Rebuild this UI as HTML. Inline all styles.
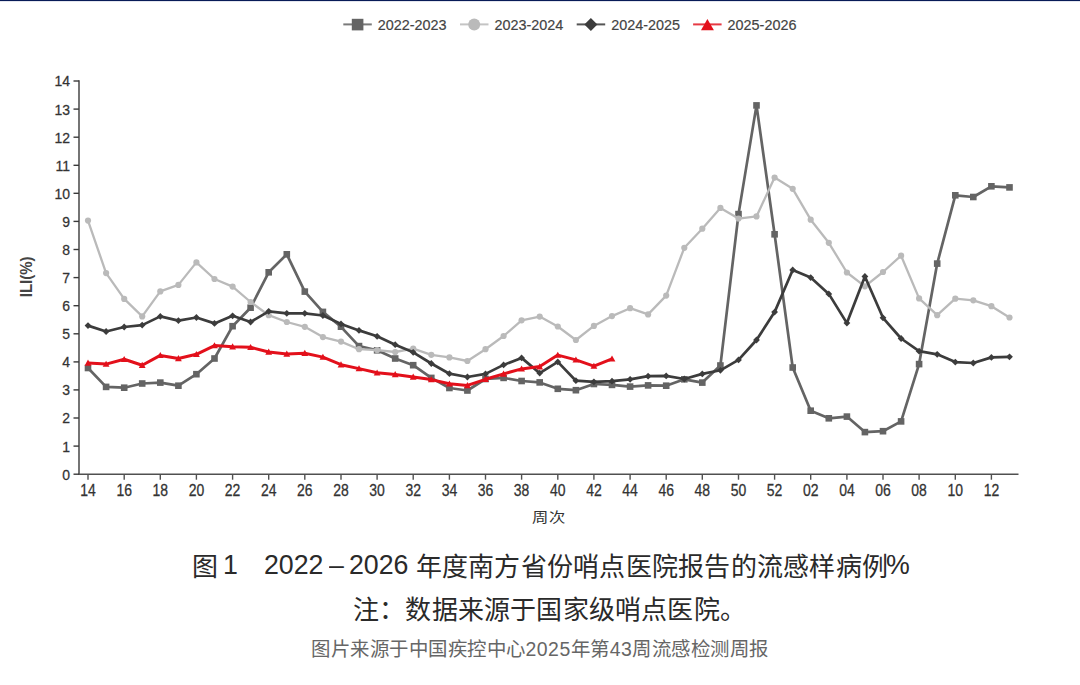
<!DOCTYPE html>
<html lang="zh-CN"><head><meta charset="utf-8"><style>
html,body{margin:0;padding:0;background:#fff;}
body{width:1080px;height:685px;overflow:hidden;position:relative;font-family:"Liberation Sans",sans-serif;}
.topbar{position:absolute;left:0;top:0;width:1080px;height:1px;background:#081b57;}
.topbar2{position:absolute;left:0;top:1px;width:1080px;height:1px;background:#e4e6ee;}
svg{position:absolute;left:0;top:0;}
.tx{position:absolute;color:#2a2a2a;white-space:nowrap;line-height:1;}
.ln{transform:scaleX(0.955);transform-origin:0 0;}
</style></head><body>
<div class="topbar"></div><div class="topbar2"></div>
<svg width="1080" height="685" viewBox="0 0 1080 685">
<g font-family="Liberation Sans, sans-serif" font-size="14.4" fill="#444">
<line x1="343.3" y1="24.4" x2="371.8" y2="24.4" stroke="#7a7a7a" stroke-width="2"/>
<rect x="351.8" y="18.8" width="11.6" height="11.6" fill="#646464"/>
<text x="377.8" y="30.2" stroke="#444" stroke-width="0.2">2022-2023</text>
<line x1="460.0" y1="24.4" x2="488.5" y2="24.4" stroke="#c4c4c4" stroke-width="2"/>
<circle cx="474.2" cy="24.4" r="6.0" fill="#bababa"/>
<text x="494.5" y="30.2" stroke="#444" stroke-width="0.2">2023-2024</text>
<line x1="576.7" y1="24.4" x2="605.2" y2="24.4" stroke="#555555" stroke-width="2"/>
<path d="M590.9 17.9L597.4 24.4L590.9 30.9L584.4 24.4Z" fill="#3c3c3c"/>
<text x="611.2" y="30.2" stroke="#444" stroke-width="0.2">2024-2025</text>
<line x1="693.1" y1="24.4" x2="721.6" y2="24.4" stroke="#e63a44" stroke-width="2"/>
<path d="M707.4 18.9L713.9 30.3L701.0 30.3Z" fill="#e3101b"/>
<text x="727.6" y="30.2" stroke="#444" stroke-width="0.2">2025-2026</text>
</g>
<g>
<line x1="79.0" y1="80.3" x2="79.0" y2="474.2" stroke="#3a3a3a" stroke-width="1.4"/>
<line x1="78.3" y1="474.2" x2="1018.5" y2="474.2" stroke="#505050" stroke-width="1.5"/>
<line x1="73.5" y1="474.2" x2="79.0" y2="474.2" stroke="#3a3a3a" stroke-width="1.4"/>
<line x1="73.5" y1="446.1" x2="79.0" y2="446.1" stroke="#3a3a3a" stroke-width="1.4"/>
<line x1="73.5" y1="418.0" x2="79.0" y2="418.0" stroke="#3a3a3a" stroke-width="1.4"/>
<line x1="73.5" y1="389.9" x2="79.0" y2="389.9" stroke="#3a3a3a" stroke-width="1.4"/>
<line x1="73.5" y1="361.9" x2="79.0" y2="361.9" stroke="#3a3a3a" stroke-width="1.4"/>
<line x1="73.5" y1="333.8" x2="79.0" y2="333.8" stroke="#3a3a3a" stroke-width="1.4"/>
<line x1="73.5" y1="305.7" x2="79.0" y2="305.7" stroke="#3a3a3a" stroke-width="1.4"/>
<line x1="73.5" y1="277.6" x2="79.0" y2="277.6" stroke="#3a3a3a" stroke-width="1.4"/>
<line x1="73.5" y1="249.5" x2="79.0" y2="249.5" stroke="#3a3a3a" stroke-width="1.4"/>
<line x1="73.5" y1="221.4" x2="79.0" y2="221.4" stroke="#3a3a3a" stroke-width="1.4"/>
<line x1="73.5" y1="193.3" x2="79.0" y2="193.3" stroke="#3a3a3a" stroke-width="1.4"/>
<line x1="73.5" y1="165.3" x2="79.0" y2="165.3" stroke="#3a3a3a" stroke-width="1.4"/>
<line x1="73.5" y1="137.2" x2="79.0" y2="137.2" stroke="#3a3a3a" stroke-width="1.4"/>
<line x1="73.5" y1="109.1" x2="79.0" y2="109.1" stroke="#3a3a3a" stroke-width="1.4"/>
<line x1="73.5" y1="81.0" x2="79.0" y2="81.0" stroke="#3a3a3a" stroke-width="1.4"/>
<line x1="88.0" y1="474.2" x2="88.0" y2="479.7" stroke="#505050" stroke-width="1.4"/>
<line x1="124.2" y1="474.2" x2="124.2" y2="479.7" stroke="#505050" stroke-width="1.4"/>
<line x1="160.3" y1="474.2" x2="160.3" y2="479.7" stroke="#505050" stroke-width="1.4"/>
<line x1="196.4" y1="474.2" x2="196.4" y2="479.7" stroke="#505050" stroke-width="1.4"/>
<line x1="232.6" y1="474.2" x2="232.6" y2="479.7" stroke="#505050" stroke-width="1.4"/>
<line x1="268.7" y1="474.2" x2="268.7" y2="479.7" stroke="#505050" stroke-width="1.4"/>
<line x1="304.8" y1="474.2" x2="304.8" y2="479.7" stroke="#505050" stroke-width="1.4"/>
<line x1="341.0" y1="474.2" x2="341.0" y2="479.7" stroke="#505050" stroke-width="1.4"/>
<line x1="377.1" y1="474.2" x2="377.1" y2="479.7" stroke="#505050" stroke-width="1.4"/>
<line x1="413.2" y1="474.2" x2="413.2" y2="479.7" stroke="#505050" stroke-width="1.4"/>
<line x1="449.4" y1="474.2" x2="449.4" y2="479.7" stroke="#505050" stroke-width="1.4"/>
<line x1="485.5" y1="474.2" x2="485.5" y2="479.7" stroke="#505050" stroke-width="1.4"/>
<line x1="521.6" y1="474.2" x2="521.6" y2="479.7" stroke="#505050" stroke-width="1.4"/>
<line x1="557.8" y1="474.2" x2="557.8" y2="479.7" stroke="#505050" stroke-width="1.4"/>
<line x1="593.9" y1="474.2" x2="593.9" y2="479.7" stroke="#505050" stroke-width="1.4"/>
<line x1="630.1" y1="474.2" x2="630.1" y2="479.7" stroke="#505050" stroke-width="1.4"/>
<line x1="666.2" y1="474.2" x2="666.2" y2="479.7" stroke="#505050" stroke-width="1.4"/>
<line x1="702.3" y1="474.2" x2="702.3" y2="479.7" stroke="#505050" stroke-width="1.4"/>
<line x1="738.5" y1="474.2" x2="738.5" y2="479.7" stroke="#505050" stroke-width="1.4"/>
<line x1="774.6" y1="474.2" x2="774.6" y2="479.7" stroke="#505050" stroke-width="1.4"/>
<line x1="810.7" y1="474.2" x2="810.7" y2="479.7" stroke="#505050" stroke-width="1.4"/>
<line x1="846.9" y1="474.2" x2="846.9" y2="479.7" stroke="#505050" stroke-width="1.4"/>
<line x1="883.0" y1="474.2" x2="883.0" y2="479.7" stroke="#505050" stroke-width="1.4"/>
<line x1="919.1" y1="474.2" x2="919.1" y2="479.7" stroke="#505050" stroke-width="1.4"/>
<line x1="955.3" y1="474.2" x2="955.3" y2="479.7" stroke="#505050" stroke-width="1.4"/>
<line x1="991.4" y1="474.2" x2="991.4" y2="479.7" stroke="#505050" stroke-width="1.4"/>
</g>
<g font-family="Liberation Sans, sans-serif" font-size="14.4" fill="#333" stroke="#333" stroke-width="0.25">
<text transform="translate(70,479.6) scale(0.97,1.05)" text-anchor="end">0</text>
<text transform="translate(70,451.5) scale(0.97,1.05)" text-anchor="end">1</text>
<text transform="translate(70,423.4) scale(0.97,1.05)" text-anchor="end">2</text>
<text transform="translate(70,395.3) scale(0.97,1.05)" text-anchor="end">3</text>
<text transform="translate(70,367.3) scale(0.97,1.05)" text-anchor="end">4</text>
<text transform="translate(70,339.2) scale(0.97,1.05)" text-anchor="end">5</text>
<text transform="translate(70,311.1) scale(0.97,1.05)" text-anchor="end">6</text>
<text transform="translate(70,283.0) scale(0.97,1.05)" text-anchor="end">7</text>
<text transform="translate(70,254.9) scale(0.97,1.05)" text-anchor="end">8</text>
<text transform="translate(70,226.8) scale(0.97,1.05)" text-anchor="end">9</text>
<text transform="translate(70,198.7) scale(0.97,1.05)" text-anchor="end">10</text>
<text transform="translate(70,170.7) scale(0.97,1.05)" text-anchor="end">11</text>
<text transform="translate(70,142.6) scale(0.97,1.05)" text-anchor="end">12</text>
<text transform="translate(70,114.5) scale(0.97,1.05)" text-anchor="end">13</text>
<text transform="translate(70,86.4) scale(0.97,1.05)" text-anchor="end">14</text>
<text transform="translate(88.0,495.6) scale(0.97,1.1)" text-anchor="middle">14</text>
<text transform="translate(124.2,495.6) scale(0.97,1.1)" text-anchor="middle">16</text>
<text transform="translate(160.3,495.6) scale(0.97,1.1)" text-anchor="middle">18</text>
<text transform="translate(196.4,495.6) scale(0.97,1.1)" text-anchor="middle">20</text>
<text transform="translate(232.6,495.6) scale(0.97,1.1)" text-anchor="middle">22</text>
<text transform="translate(268.7,495.6) scale(0.97,1.1)" text-anchor="middle">24</text>
<text transform="translate(304.8,495.6) scale(0.97,1.1)" text-anchor="middle">26</text>
<text transform="translate(341.0,495.6) scale(0.97,1.1)" text-anchor="middle">28</text>
<text transform="translate(377.1,495.6) scale(0.97,1.1)" text-anchor="middle">30</text>
<text transform="translate(413.2,495.6) scale(0.97,1.1)" text-anchor="middle">32</text>
<text transform="translate(449.4,495.6) scale(0.97,1.1)" text-anchor="middle">34</text>
<text transform="translate(485.5,495.6) scale(0.97,1.1)" text-anchor="middle">36</text>
<text transform="translate(521.6,495.6) scale(0.97,1.1)" text-anchor="middle">38</text>
<text transform="translate(557.8,495.6) scale(0.97,1.1)" text-anchor="middle">40</text>
<text transform="translate(593.9,495.6) scale(0.97,1.1)" text-anchor="middle">42</text>
<text transform="translate(630.1,495.6) scale(0.97,1.1)" text-anchor="middle">44</text>
<text transform="translate(666.2,495.6) scale(0.97,1.1)" text-anchor="middle">46</text>
<text transform="translate(702.3,495.6) scale(0.97,1.1)" text-anchor="middle">48</text>
<text transform="translate(738.5,495.6) scale(0.97,1.1)" text-anchor="middle">50</text>
<text transform="translate(774.6,495.6) scale(0.97,1.1)" text-anchor="middle">52</text>
<text transform="translate(810.7,495.6) scale(0.97,1.1)" text-anchor="middle">02</text>
<text transform="translate(846.9,495.6) scale(0.97,1.1)" text-anchor="middle">04</text>
<text transform="translate(883.0,495.6) scale(0.97,1.1)" text-anchor="middle">06</text>
<text transform="translate(919.1,495.6) scale(0.97,1.1)" text-anchor="middle">08</text>
<text transform="translate(955.3,495.6) scale(0.97,1.1)" text-anchor="middle">10</text>
<text transform="translate(991.4,495.6) scale(0.97,1.1)" text-anchor="middle">12</text>
</g>
<g>
<polyline fill="none" stroke="#646464" stroke-width="2.7" stroke-linejoin="round" points="88.0,368.0 106.1,386.9 124.2,387.7 142.2,383.5 160.3,382.6 178.4,385.7 196.4,374.2 214.5,358.5 232.6,326.2 250.6,307.7 268.7,272.3 286.8,254.3 304.8,291.6 322.9,311.9 341.0,326.8 359.0,346.1 377.1,350.3 395.2,358.5 413.2,365.2 431.3,377.9 449.4,388.0 467.4,390.5 485.5,379.0 503.6,377.9 521.6,381.0 539.7,382.4 557.8,388.8 575.9,390.2 593.9,384.0 612.0,384.9 630.1,386.6 648.1,385.4 666.2,385.7 684.3,379.3 702.3,382.6 720.4,365.5 738.5,214.1 756.5,105.4 774.6,234.3 792.7,367.5 810.7,410.7 828.8,418.3 846.9,416.6 864.9,432.1 883.0,431.2 901.1,421.4 919.1,364.1 937.2,263.6 955.3,195.3 973.3,197.0 991.4,186.3 1009.5,187.4"/>
<rect x="84.7" y="364.7" width="6.6" height="6.6" fill="#646464"/>
<rect x="102.8" y="383.6" width="6.6" height="6.6" fill="#646464"/>
<rect x="120.9" y="384.4" width="6.6" height="6.6" fill="#646464"/>
<rect x="138.9" y="380.2" width="6.6" height="6.6" fill="#646464"/>
<rect x="157.0" y="379.3" width="6.6" height="6.6" fill="#646464"/>
<rect x="175.1" y="382.4" width="6.6" height="6.6" fill="#646464"/>
<rect x="193.1" y="370.9" width="6.6" height="6.6" fill="#646464"/>
<rect x="211.2" y="355.2" width="6.6" height="6.6" fill="#646464"/>
<rect x="229.3" y="322.9" width="6.6" height="6.6" fill="#646464"/>
<rect x="247.3" y="304.4" width="6.6" height="6.6" fill="#646464"/>
<rect x="265.4" y="269.0" width="6.6" height="6.6" fill="#646464"/>
<rect x="283.5" y="251.0" width="6.6" height="6.6" fill="#646464"/>
<rect x="301.5" y="288.3" width="6.6" height="6.6" fill="#646464"/>
<rect x="319.6" y="308.6" width="6.6" height="6.6" fill="#646464"/>
<rect x="337.7" y="323.4" width="6.6" height="6.6" fill="#646464"/>
<rect x="355.7" y="342.8" width="6.6" height="6.6" fill="#646464"/>
<rect x="373.8" y="347.0" width="6.6" height="6.6" fill="#646464"/>
<rect x="391.9" y="355.2" width="6.6" height="6.6" fill="#646464"/>
<rect x="409.9" y="361.9" width="6.6" height="6.6" fill="#646464"/>
<rect x="428.0" y="374.6" width="6.6" height="6.6" fill="#646464"/>
<rect x="446.1" y="384.7" width="6.6" height="6.6" fill="#646464"/>
<rect x="464.1" y="387.2" width="6.6" height="6.6" fill="#646464"/>
<rect x="482.2" y="375.7" width="6.6" height="6.6" fill="#646464"/>
<rect x="500.3" y="374.6" width="6.6" height="6.6" fill="#646464"/>
<rect x="518.3" y="377.7" width="6.6" height="6.6" fill="#646464"/>
<rect x="536.4" y="379.1" width="6.6" height="6.6" fill="#646464"/>
<rect x="554.5" y="385.5" width="6.6" height="6.6" fill="#646464"/>
<rect x="572.6" y="386.9" width="6.6" height="6.6" fill="#646464"/>
<rect x="590.6" y="380.7" width="6.6" height="6.6" fill="#646464"/>
<rect x="608.7" y="381.6" width="6.6" height="6.6" fill="#646464"/>
<rect x="626.8" y="383.3" width="6.6" height="6.6" fill="#646464"/>
<rect x="644.8" y="382.1" width="6.6" height="6.6" fill="#646464"/>
<rect x="662.9" y="382.4" width="6.6" height="6.6" fill="#646464"/>
<rect x="681.0" y="376.0" width="6.6" height="6.6" fill="#646464"/>
<rect x="699.0" y="379.3" width="6.6" height="6.6" fill="#646464"/>
<rect x="717.1" y="362.2" width="6.6" height="6.6" fill="#646464"/>
<rect x="735.2" y="210.8" width="6.6" height="6.6" fill="#646464"/>
<rect x="753.2" y="102.1" width="6.6" height="6.6" fill="#646464"/>
<rect x="771.3" y="231.0" width="6.6" height="6.6" fill="#646464"/>
<rect x="789.4" y="364.2" width="6.6" height="6.6" fill="#646464"/>
<rect x="807.4" y="407.4" width="6.6" height="6.6" fill="#646464"/>
<rect x="825.5" y="415.0" width="6.6" height="6.6" fill="#646464"/>
<rect x="843.6" y="413.3" width="6.6" height="6.6" fill="#646464"/>
<rect x="861.6" y="428.8" width="6.6" height="6.6" fill="#646464"/>
<rect x="879.7" y="427.9" width="6.6" height="6.6" fill="#646464"/>
<rect x="897.8" y="418.1" width="6.6" height="6.6" fill="#646464"/>
<rect x="915.8" y="360.8" width="6.6" height="6.6" fill="#646464"/>
<rect x="933.9" y="260.3" width="6.6" height="6.6" fill="#646464"/>
<rect x="952.0" y="192.0" width="6.6" height="6.6" fill="#646464"/>
<rect x="970.0" y="193.7" width="6.6" height="6.6" fill="#646464"/>
<rect x="988.1" y="183.0" width="6.6" height="6.6" fill="#646464"/>
<rect x="1006.2" y="184.1" width="6.6" height="6.6" fill="#646464"/>
<polyline fill="none" stroke="#bababa" stroke-width="2.3" stroke-linejoin="round" points="88.0,220.6 106.1,273.1 124.2,298.9 142.2,316.4 160.3,291.4 178.4,284.9 196.4,262.4 214.5,279.0 232.6,286.6 250.6,302.0 268.7,315.2 286.8,322.0 304.8,326.8 322.9,337.1 341.0,341.6 359.0,349.2 377.1,350.1 395.2,352.0 413.2,348.7 431.3,354.8 449.4,357.4 467.4,361.0 485.5,349.2 503.6,336.0 521.6,320.3 539.7,316.6 557.8,326.5 575.9,340.0 593.9,325.9 612.0,316.1 630.1,308.2 648.1,314.4 666.2,295.6 684.3,247.8 702.3,228.7 720.4,207.9 738.5,218.6 756.5,216.4 774.6,177.6 792.7,188.8 810.7,219.7 828.8,242.8 846.9,272.5 864.9,286.3 883.0,272.0 901.1,255.7 919.1,298.4 937.2,315.2 955.3,298.7 973.3,300.3 991.4,306.2 1009.5,317.5"/>
<circle cx="88.0" cy="220.6" r="3.1" fill="#bababa"/>
<circle cx="106.1" cy="273.1" r="3.1" fill="#bababa"/>
<circle cx="124.2" cy="298.9" r="3.1" fill="#bababa"/>
<circle cx="142.2" cy="316.4" r="3.1" fill="#bababa"/>
<circle cx="160.3" cy="291.4" r="3.1" fill="#bababa"/>
<circle cx="178.4" cy="284.9" r="3.1" fill="#bababa"/>
<circle cx="196.4" cy="262.4" r="3.1" fill="#bababa"/>
<circle cx="214.5" cy="279.0" r="3.1" fill="#bababa"/>
<circle cx="232.6" cy="286.6" r="3.1" fill="#bababa"/>
<circle cx="250.6" cy="302.0" r="3.1" fill="#bababa"/>
<circle cx="268.7" cy="315.2" r="3.1" fill="#bababa"/>
<circle cx="286.8" cy="322.0" r="3.1" fill="#bababa"/>
<circle cx="304.8" cy="326.8" r="3.1" fill="#bababa"/>
<circle cx="322.9" cy="337.1" r="3.1" fill="#bababa"/>
<circle cx="341.0" cy="341.6" r="3.1" fill="#bababa"/>
<circle cx="359.0" cy="349.2" r="3.1" fill="#bababa"/>
<circle cx="377.1" cy="350.1" r="3.1" fill="#bababa"/>
<circle cx="395.2" cy="352.0" r="3.1" fill="#bababa"/>
<circle cx="413.2" cy="348.7" r="3.1" fill="#bababa"/>
<circle cx="431.3" cy="354.8" r="3.1" fill="#bababa"/>
<circle cx="449.4" cy="357.4" r="3.1" fill="#bababa"/>
<circle cx="467.4" cy="361.0" r="3.1" fill="#bababa"/>
<circle cx="485.5" cy="349.2" r="3.1" fill="#bababa"/>
<circle cx="503.6" cy="336.0" r="3.1" fill="#bababa"/>
<circle cx="521.6" cy="320.3" r="3.1" fill="#bababa"/>
<circle cx="539.7" cy="316.6" r="3.1" fill="#bababa"/>
<circle cx="557.8" cy="326.5" r="3.1" fill="#bababa"/>
<circle cx="575.9" cy="340.0" r="3.1" fill="#bababa"/>
<circle cx="593.9" cy="325.9" r="3.1" fill="#bababa"/>
<circle cx="612.0" cy="316.1" r="3.1" fill="#bababa"/>
<circle cx="630.1" cy="308.2" r="3.1" fill="#bababa"/>
<circle cx="648.1" cy="314.4" r="3.1" fill="#bababa"/>
<circle cx="666.2" cy="295.6" r="3.1" fill="#bababa"/>
<circle cx="684.3" cy="247.8" r="3.1" fill="#bababa"/>
<circle cx="702.3" cy="228.7" r="3.1" fill="#bababa"/>
<circle cx="720.4" cy="207.9" r="3.1" fill="#bababa"/>
<circle cx="738.5" cy="218.6" r="3.1" fill="#bababa"/>
<circle cx="756.5" cy="216.4" r="3.1" fill="#bababa"/>
<circle cx="774.6" cy="177.6" r="3.1" fill="#bababa"/>
<circle cx="792.7" cy="188.8" r="3.1" fill="#bababa"/>
<circle cx="810.7" cy="219.7" r="3.1" fill="#bababa"/>
<circle cx="828.8" cy="242.8" r="3.1" fill="#bababa"/>
<circle cx="846.9" cy="272.5" r="3.1" fill="#bababa"/>
<circle cx="864.9" cy="286.3" r="3.1" fill="#bababa"/>
<circle cx="883.0" cy="272.0" r="3.1" fill="#bababa"/>
<circle cx="901.1" cy="255.7" r="3.1" fill="#bababa"/>
<circle cx="919.1" cy="298.4" r="3.1" fill="#bababa"/>
<circle cx="937.2" cy="315.2" r="3.1" fill="#bababa"/>
<circle cx="955.3" cy="298.7" r="3.1" fill="#bababa"/>
<circle cx="973.3" cy="300.3" r="3.1" fill="#bababa"/>
<circle cx="991.4" cy="306.2" r="3.1" fill="#bababa"/>
<circle cx="1009.5" cy="317.5" r="3.1" fill="#bababa"/>
<polyline fill="none" stroke="#3c3c3c" stroke-width="2.7" stroke-linejoin="round" points="88.0,325.6 106.1,331.5 124.2,327.0 142.2,325.1 160.3,316.4 178.4,320.6 196.4,317.5 214.5,323.4 232.6,315.8 250.6,322.0 268.7,311.3 286.8,313.3 304.8,313.3 322.9,315.5 341.0,323.9 359.0,330.4 377.1,336.3 395.2,344.7 413.2,352.3 431.3,363.5 449.4,373.7 467.4,377.0 485.5,373.9 503.6,364.9 521.6,357.9 539.7,373.1 557.8,361.9 575.9,380.7 593.9,381.8 612.0,381.2 630.1,379.3 648.1,376.2 666.2,375.9 684.3,379.0 702.3,373.9 720.4,370.3 738.5,359.9 756.5,340.0 774.6,312.1 792.7,270.0 810.7,277.6 828.8,293.9 846.9,323.1 864.9,276.5 883.0,317.8 901.1,338.5 919.1,351.2 937.2,354.3 955.3,362.1 973.3,363.0 991.4,357.4 1009.5,356.8"/>
<path d="M88.0 322.2L91.4 325.6L88.0 329.0L84.6 325.6Z" fill="#3c3c3c"/>
<path d="M106.1 328.1L109.5 331.5L106.1 334.9L102.7 331.5Z" fill="#3c3c3c"/>
<path d="M124.2 323.6L127.6 327.0L124.2 330.4L120.8 327.0Z" fill="#3c3c3c"/>
<path d="M142.2 321.7L145.6 325.1L142.2 328.5L138.8 325.1Z" fill="#3c3c3c"/>
<path d="M160.3 313.0L163.7 316.4L160.3 319.8L156.9 316.4Z" fill="#3c3c3c"/>
<path d="M178.4 317.2L181.8 320.6L178.4 324.0L175.0 320.6Z" fill="#3c3c3c"/>
<path d="M196.4 314.1L199.8 317.5L196.4 320.9L193.0 317.5Z" fill="#3c3c3c"/>
<path d="M214.5 320.0L217.9 323.4L214.5 326.8L211.1 323.4Z" fill="#3c3c3c"/>
<path d="M232.6 312.4L236.0 315.8L232.6 319.2L229.2 315.8Z" fill="#3c3c3c"/>
<path d="M250.6 318.6L254.0 322.0L250.6 325.4L247.2 322.0Z" fill="#3c3c3c"/>
<path d="M268.7 307.9L272.1 311.3L268.7 314.7L265.3 311.3Z" fill="#3c3c3c"/>
<path d="M286.8 309.9L290.2 313.3L286.8 316.7L283.4 313.3Z" fill="#3c3c3c"/>
<path d="M304.8 309.9L308.2 313.3L304.8 316.7L301.4 313.3Z" fill="#3c3c3c"/>
<path d="M322.9 312.1L326.3 315.5L322.9 318.9L319.5 315.5Z" fill="#3c3c3c"/>
<path d="M341.0 320.5L344.4 323.9L341.0 327.3L337.6 323.9Z" fill="#3c3c3c"/>
<path d="M359.0 327.0L362.4 330.4L359.0 333.8L355.6 330.4Z" fill="#3c3c3c"/>
<path d="M377.1 332.9L380.5 336.3L377.1 339.7L373.7 336.3Z" fill="#3c3c3c"/>
<path d="M395.2 341.3L398.6 344.7L395.2 348.1L391.8 344.7Z" fill="#3c3c3c"/>
<path d="M413.2 348.9L416.6 352.3L413.2 355.7L409.8 352.3Z" fill="#3c3c3c"/>
<path d="M431.3 360.1L434.7 363.5L431.3 366.9L427.9 363.5Z" fill="#3c3c3c"/>
<path d="M449.4 370.3L452.8 373.7L449.4 377.1L446.0 373.7Z" fill="#3c3c3c"/>
<path d="M467.4 373.6L470.8 377.0L467.4 380.4L464.0 377.0Z" fill="#3c3c3c"/>
<path d="M485.5 370.5L488.9 373.9L485.5 377.3L482.1 373.9Z" fill="#3c3c3c"/>
<path d="M503.6 361.5L507.0 364.9L503.6 368.3L500.2 364.9Z" fill="#3c3c3c"/>
<path d="M521.6 354.5L525.0 357.9L521.6 361.3L518.2 357.9Z" fill="#3c3c3c"/>
<path d="M539.7 369.7L543.1 373.1L539.7 376.5L536.3 373.1Z" fill="#3c3c3c"/>
<path d="M557.8 358.5L561.2 361.9L557.8 365.3L554.4 361.9Z" fill="#3c3c3c"/>
<path d="M575.9 377.3L579.3 380.7L575.9 384.1L572.5 380.7Z" fill="#3c3c3c"/>
<path d="M593.9 378.4L597.3 381.8L593.9 385.2L590.5 381.8Z" fill="#3c3c3c"/>
<path d="M612.0 377.8L615.4 381.2L612.0 384.6L608.6 381.2Z" fill="#3c3c3c"/>
<path d="M630.1 375.9L633.5 379.3L630.1 382.7L626.7 379.3Z" fill="#3c3c3c"/>
<path d="M648.1 372.8L651.5 376.2L648.1 379.6L644.7 376.2Z" fill="#3c3c3c"/>
<path d="M666.2 372.5L669.6 375.9L666.2 379.3L662.8 375.9Z" fill="#3c3c3c"/>
<path d="M684.3 375.6L687.7 379.0L684.3 382.4L680.9 379.0Z" fill="#3c3c3c"/>
<path d="M702.3 370.5L705.7 373.9L702.3 377.3L698.9 373.9Z" fill="#3c3c3c"/>
<path d="M720.4 366.9L723.8 370.3L720.4 373.7L717.0 370.3Z" fill="#3c3c3c"/>
<path d="M738.5 356.5L741.9 359.9L738.5 363.3L735.1 359.9Z" fill="#3c3c3c"/>
<path d="M756.5 336.6L759.9 340.0L756.5 343.4L753.1 340.0Z" fill="#3c3c3c"/>
<path d="M774.6 308.7L778.0 312.1L774.6 315.5L771.2 312.1Z" fill="#3c3c3c"/>
<path d="M792.7 266.6L796.1 270.0L792.7 273.4L789.3 270.0Z" fill="#3c3c3c"/>
<path d="M810.7 274.2L814.1 277.6L810.7 281.0L807.3 277.6Z" fill="#3c3c3c"/>
<path d="M828.8 290.5L832.2 293.9L828.8 297.3L825.4 293.9Z" fill="#3c3c3c"/>
<path d="M846.9 319.7L850.3 323.1L846.9 326.5L843.5 323.1Z" fill="#3c3c3c"/>
<path d="M864.9 273.1L868.3 276.5L864.9 279.9L861.5 276.5Z" fill="#3c3c3c"/>
<path d="M883.0 314.4L886.4 317.8L883.0 321.2L879.6 317.8Z" fill="#3c3c3c"/>
<path d="M901.1 335.1L904.5 338.5L901.1 341.9L897.7 338.5Z" fill="#3c3c3c"/>
<path d="M919.1 347.8L922.5 351.2L919.1 354.6L915.7 351.2Z" fill="#3c3c3c"/>
<path d="M937.2 350.9L940.6 354.3L937.2 357.7L933.8 354.3Z" fill="#3c3c3c"/>
<path d="M955.3 358.7L958.7 362.1L955.3 365.5L951.9 362.1Z" fill="#3c3c3c"/>
<path d="M973.3 359.6L976.7 363.0L973.3 366.4L969.9 363.0Z" fill="#3c3c3c"/>
<path d="M991.4 354.0L994.8 357.4L991.4 360.8L988.0 357.4Z" fill="#3c3c3c"/>
<path d="M1009.5 353.4L1012.9 356.8L1009.5 360.2L1006.1 356.8Z" fill="#3c3c3c"/>
<polyline fill="none" stroke="#e3101b" stroke-width="3.0" stroke-linejoin="round" points="88.0,363.0 106.1,364.1 124.2,359.3 142.2,365.2 160.3,355.4 178.4,358.5 196.4,354.3 214.5,345.6 232.6,346.7 250.6,347.3 268.7,352.0 286.8,354.0 304.8,353.2 322.9,357.1 341.0,364.7 359.0,368.6 377.1,372.8 395.2,374.5 413.2,377.0 431.3,379.6 449.4,383.8 467.4,385.4 485.5,379.3 503.6,373.9 521.6,368.9 539.7,366.6 557.8,355.1 575.9,359.9 593.9,366.1 612.0,358.8"/>
<path d="M88.0 359.6L91.4 365.7L84.6 365.7Z" fill="#e3101b"/>
<path d="M106.1 360.7L109.5 366.8L102.7 366.8Z" fill="#e3101b"/>
<path d="M124.2 355.9L127.6 362.0L120.8 362.0Z" fill="#e3101b"/>
<path d="M142.2 361.8L145.6 367.9L138.8 367.9Z" fill="#e3101b"/>
<path d="M160.3 352.0L163.7 358.1L156.9 358.1Z" fill="#e3101b"/>
<path d="M178.4 355.1L181.8 361.2L175.0 361.2Z" fill="#e3101b"/>
<path d="M196.4 350.9L199.8 357.0L193.0 357.0Z" fill="#e3101b"/>
<path d="M214.5 342.2L217.9 348.3L211.1 348.3Z" fill="#e3101b"/>
<path d="M232.6 343.3L236.0 349.4L229.2 349.4Z" fill="#e3101b"/>
<path d="M250.6 343.9L254.0 350.0L247.2 350.0Z" fill="#e3101b"/>
<path d="M268.7 348.6L272.1 354.7L265.3 354.7Z" fill="#e3101b"/>
<path d="M286.8 350.6L290.2 356.7L283.4 356.7Z" fill="#e3101b"/>
<path d="M304.8 349.8L308.2 355.9L301.4 355.9Z" fill="#e3101b"/>
<path d="M322.9 353.7L326.3 359.8L319.5 359.8Z" fill="#e3101b"/>
<path d="M341.0 361.3L344.4 367.4L337.6 367.4Z" fill="#e3101b"/>
<path d="M359.0 365.2L362.4 371.3L355.6 371.3Z" fill="#e3101b"/>
<path d="M377.1 369.4L380.5 375.5L373.7 375.5Z" fill="#e3101b"/>
<path d="M395.2 371.1L398.6 377.2L391.8 377.2Z" fill="#e3101b"/>
<path d="M413.2 373.6L416.6 379.7L409.8 379.7Z" fill="#e3101b"/>
<path d="M431.3 376.2L434.7 382.3L427.9 382.3Z" fill="#e3101b"/>
<path d="M449.4 380.4L452.8 386.5L446.0 386.5Z" fill="#e3101b"/>
<path d="M467.4 382.0L470.8 388.2L464.0 388.2Z" fill="#e3101b"/>
<path d="M485.5 375.9L488.9 382.0L482.1 382.0Z" fill="#e3101b"/>
<path d="M503.6 370.5L507.0 376.7L500.2 376.7Z" fill="#e3101b"/>
<path d="M521.6 365.5L525.0 371.6L518.2 371.6Z" fill="#e3101b"/>
<path d="M539.7 363.2L543.1 369.4L536.3 369.4Z" fill="#e3101b"/>
<path d="M557.8 351.7L561.2 357.8L554.4 357.8Z" fill="#e3101b"/>
<path d="M575.9 356.5L579.3 362.6L572.5 362.6Z" fill="#e3101b"/>
<path d="M593.9 362.7L597.3 368.8L590.5 368.8Z" fill="#e3101b"/>
<path d="M612.0 355.4L615.4 361.5L608.6 361.5Z" fill="#e3101b"/>
</g>
<text transform="translate(548.6,522.2) scale(1.09,0.9)" text-anchor="middle" font-family="Liberation Sans, sans-serif" font-size="15" fill="#333">周次</text>
<text transform="translate(31.6,276.9) rotate(-90) scale(0.88,1)" text-anchor="middle" font-family="Liberation Sans, sans-serif" font-size="17" font-weight="bold" fill="#444">ILI(%)</text>
</svg>
<div class="tx" style="left:192px;top:553.5px;font-size:26px;">图</div>
<div class="tx ln" style="left:222.8px;top:551px;font-size:28px;">1</div>
<div class="tx ln" style="left:264.2px;top:551px;font-size:28px;">2022</div>
<div class="tx ln" style="left:329.3px;top:551px;font-size:28px;">–</div>
<div class="tx ln" style="left:349.4px;top:551px;font-size:28px;">2026</div>
<div class="tx" style="left:415.6px;top:553.5px;font-size:26px;letter-spacing:0.26px;">年度南方省份哨点医院报告的流感样病例</div>
<div class="tx ln" style="left:886.3px;top:551px;font-size:28px;">%</div>
<div class="tx" style="left:353px;top:596.5px;font-size:26px;letter-spacing:0.2px;">注：数据来源于国家级哨点医院。</div>
<div class="tx" style="left:311px;top:640px;font-size:19.45px;letter-spacing:0.5px;color:#666;">图片来源于中国疾控中心2025年第43周流感检测周报</div>
</body></html>
